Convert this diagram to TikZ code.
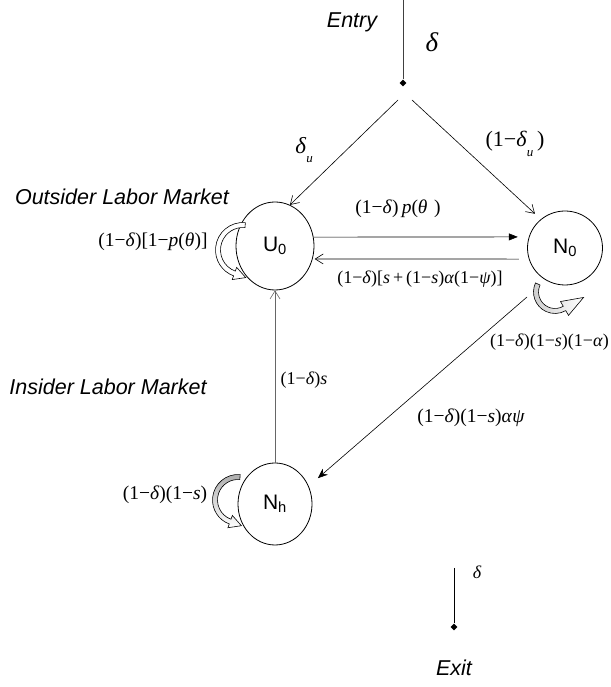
\documentclass[tikz,border=0pt]{standalone}
\usepackage{fontspec}
\setmainfont{Liberation Serif}
\setsansfont{Liberation Sans}
\usetikzlibrary{shapes.geometric,arrows.meta,calc}
\newcommand{\mi}[1]{\textit{#1}}
\newcommand{\mysub}[1]{\raisebox{-0.42em}{\fontsize{13}{13}\selectfont\textit{#1}}}
\begin{document}
\begin{tikzpicture}[x=1pt,y=1pt,
  lbl/.style={font=\sffamily\itshape\fontsize{21.5}{24}\selectfont, inner sep=0pt},
  mth/.style={font=\fontsize{18}{20}\selectfont, inner sep=0pt},
  mthb/.style={font=\fontsize{19.5}{22}\selectfont, inner sep=0pt},
  st/.style={draw, line width=0.8pt, ellipse, inner sep=0pt, font=\sffamily\fontsize{21}{23}\selectfont},
  dia/.style={diamond, fill, inner sep=0pt, minimum size=7pt},
  ln/.style={line width=0.6pt},
  barb/.style={ln, -{Straight Barb[length=8pt,width=10pt]}},
  band/.style={line width=0.6pt}
]
\useasboundingbox (0,0) rectangle (610,687);
\clip (0,0) rectangle (610,687);

% states
\node[st, minimum width=78pt, minimum height=88pt] (U0) at (275,441) {U\textsubscript{0}};
\node[st, minimum width=75pt, minimum height=74pt] (N0) at (565,439) {N\textsubscript{0}};
\node[st, minimum width=74pt, minimum height=82pt] (Nh) at (275,183) {N\textsubscript{h}};

% entry
\coordinate (entryTop) at (403,687);
\node[dia] (top) at (403,604) {};
\draw[ln, draw=black!75] (entryTop) -- (top);
\node[lbl] (entry) at (352,665) {Entry};
\node[font=\fontsize{27}{27}\selectfont\itshape, inner sep=0pt] (d0) at (432,645) {δ};

\coordinate (bl) at (398,587);
\coordinate (br) at (412,587);
\draw[barb] (bl) -- (U0.70);
\draw[barb, shorten >=8pt] (br) -- (N0.130);
\node[font=\fontsize{23}{25}\selectfont, inner sep=0pt] (du) at (304,537) {\mi{δ}\mysub{u}};
\node[font=\fontsize{22}{24}\selectfont, inner sep=0pt] (odu) at (515,543) {(1−\mi{δ}\mysub{u}\,)};

% horizontal arrows
\draw[ln, -{Triangle[length=9pt,width=7pt]}, shorten >=11pt] (U0.13) -- (N0.163);
\draw[barb, shorten <=10pt, shorten >=2pt] (N0.197) -- (U0.341);
\node[mthb] (lp) at (398,478) {(1−\mi{δ})\,\mi{p}(\mi{θ}\,\,)};
\node[mth] (lr) at (420,408) {(1−\mi{δ})[\mi{s}\,+\,(1−\mi{s})\mi{α}(1−\mi{ψ})]};

% diagonal N0 -> Nh
\coordinate (dg) at (527,390);
\draw[ln, -{Stealth[length=10pt,width=8pt]}, shorten >=12pt] (dg) -- (Nh.28);
\node[mth, anchor=east] (la) at (609,345) {(1−\mi{δ})(1−\mi{s})(1−\mi{α})};
\node[mthb] (lap) at (471,269) {(1−\mi{δ})(1−\mi{s})\mi{α}\mi{ψ}};

% vertical Nh -> U0
\draw[barb, draw=black!60] (Nh.north) -- (U0.south);
\node[mth] (ls) at (304,307) {(1−\mi{δ})\mi{s}};

% market labels
\node[lbl] (out) at (122,490) {Outsider Labor Market};
\node[lbl] (ins) at (108,300) {Insider Labor Market};

% self loops
\node[mthb] (lu) at (153,445) {(1−\mi{δ})[1−\mi{p}(\mi{θ})]};
\node[mthb] (lh) at (165,192) {(1−\mi{δ})(1−\mi{s})};

\begin{scope}[shift={(243,437)}]
  \draw[band, fill=white] (85:27.5) arc[start angle=85, end angle=250, radius=27.5]
    -- (250:31.5) -- (2.73,-27.59) -- (250:18.5) -- (250:22.5)
    arc[start angle=250, end angle=85, radius=22.5] -- cycle;
\end{scope}
\begin{scope}[shift={(238,187)}]
  \draw[band, top color=gray!65, bottom color=white] (85:25.5) arc[start angle=85, end angle=250, radius=25.5]
    -- (250:29.5) -- (3.41,-25.71) -- (250:16.5) -- (250:20.5)
    arc[start angle=250, end angle=85, radius=20.5] -- cycle;
\end{scope}
\begin{scope}[shift={(555,395)}]
  \draw[band, left color=gray!40, middle color=black!85, right color=white] (155:21.5) arc[start angle=155, end angle=300, radius=21.5]
    -- (300:27) -- (28.55,-5.45) -- (300:11) -- (300:16.5)
    arc[start angle=300, end angle=155, radius=16.5] -- cycle;
\end{scope}

% exit
\coordinate (exTop) at (454,119);
\node[dia] (bot) at (454,60) {};
\draw[ln] (exTop) -- (bot);
\node[font=\fontsize{18}{18}\selectfont\itshape, inner sep=0pt] (d1) at (477,115) {δ};
\node[lbl] (exit) at (454,19) {Exit};
\end{tikzpicture}
\end{document}
